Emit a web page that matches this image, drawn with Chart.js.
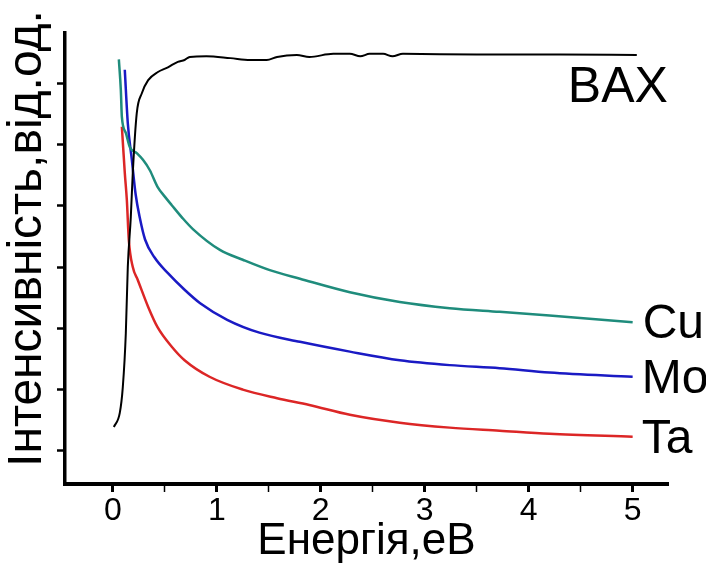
<!DOCTYPE html>
<html>
<head>
<meta charset="utf-8">
<script src="https://cdn.jsdelivr.net/npm/chart.js@4.4.0/dist/chart.umd.min.js"></script>
<style>
  html, body { margin: 0; padding: 0; background: #fff; }
  canvas { display: block; }
</style>
</head>
<body>
<canvas id="chart" width="706" height="568"></canvas>
<script>
// values (energy in eV, intensity in arb. units)
const baxX = [0.01, 0.067, 0.096, 0.125, 0.144, 0.173, 0.192, 0.23, 0.28, 0.34, 0.43, 0.53, 0.625, 0.69, 0.74, 0.90, 1.13, 1.32, 1.48, 1.58, 1.77, 1.89, 2.12, 2.28, 2.38, 2.47, 2.60, 2.69, 2.79, 3.50, 4.30, 5.04];
const baxY = [0.39, 0.62, 1.04, 1.92, 3.00, 3.82, 4.54, 5.51, 5.84, 6.05, 6.18, 6.26, 6.35, 6.38, 6.43, 6.44, 6.41, 6.38, 6.38, 6.43, 6.46, 6.43, 6.48, 6.48, 6.44, 6.48, 6.48, 6.44, 6.48, 6.47, 6.47, 6.46];

const cuX = [0.058, 0.077, 0.087, 0.125, 0.163, 0.23, 0.29, 0.356, 0.43, 0.50, 0.567, 0.67, 0.77, 1.03, 1.25, 1.51, 1.80, 2.28, 2.76, 3.24, 3.72, 4.20, 5.00];
const cuY = [6.39, 5.89, 5.45, 5.19, 4.96, 4.86, 4.75, 4.58, 4.31, 4.15, 4.01, 3.80, 3.62, 3.28, 3.12, 2.95, 2.81, 2.59, 2.43, 2.33, 2.27, 2.21, 2.10];

const moX = [0.115, 0.144, 0.183, 0.22, 0.26, 0.31, 0.40, 0.53, 0.69, 0.84, 1.10, 1.41, 1.80, 2.28, 2.76, 3.24, 3.72, 4.20, 5.00];
const moY = [6.22, 5.35, 4.75, 4.18, 3.80, 3.45, 3.16, 2.90, 2.63, 2.41, 2.14, 1.93, 1.78, 1.62, 1.48, 1.40, 1.35, 1.28, 1.21];

const taX = [0.087, 0.115, 0.135, 0.154, 0.192, 0.24, 0.34, 0.43, 0.567, 0.69, 0.93, 1.25, 1.58, 1.89, 2.28, 2.76, 3.24, 3.72, 4.20, 5.00];
const taY = [5.29, 4.54, 4.09, 3.44, 3.00, 2.79, 2.35, 2.02, 1.70, 1.48, 1.21, 1.00, 0.86, 0.75, 0.59, 0.46, 0.38, 0.33, 0.28, 0.23];

const seriesNames = ['BAX', 'Cu', 'Mo', 'Ta'];
const xTickValues = [0, 0.5, 1, 1.5, 2, 2.5, 3, 3.5, 4, 4.5, 5];
const yTickValues = [0, 1, 2, 3, 4, 5, 6];
const yTitle = 'Інтенсивність,від.од.';

const fontFamily = '"Liberation Sans", Arial, sans-serif';

function pairs(xs, ys) {
  return xs.map((x, i) => ({ x: x, y: ys[i] }));
}

// labels written at the right end of each curve
const labelStyle = [
  { dx: -69, dy: 47, size: 50 },
  { dx: 10, dy: 16, size: 48 },
  { dx: 9, dy: 16, size: 48 },
  { dx: 9, dy: 16, size: 48 }
];

const endLabels = {
  id: 'endLabels',
  afterDatasetsDraw(chart) {
    const ctx = chart.ctx;
    ctx.save();
    ctx.fillStyle = '#000';
    ctx.textAlign = 'left';
    ctx.textBaseline = 'alphabetic';
    chart.data.datasets.forEach((ds, i) => {
      const meta = chart.getDatasetMeta(i);
      const last = meta.data[meta.data.length - 1];
      const st = labelStyle[i];
      ctx.font = st.size + 'px ' + fontFamily;
      ctx.fillText(ds.label, last.x + st.dx, last.y + st.dy);
    });

    // y title sits a bit above the middle of the axis in the original
    const area = chart.chartArea;
    ctx.translate(28, (area.top + area.bottom) / 2 - 20);
    ctx.rotate(-Math.PI / 2);
    ctx.textAlign = 'center';
    ctx.textBaseline = 'middle';
    ctx.font = '48px ' + fontFamily;
    ctx.fillText(yTitle, 0, 0);
    ctx.restore();
  }
};

const ctx = document.getElementById('chart').getContext('2d');
new Chart(ctx, {
  type: 'scatter',
  data: {
    datasets: [
      { label: seriesNames[0], data: pairs(baxX, baxY), borderColor: '#000000', borderWidth: 2 },
      { label: seriesNames[1], data: pairs(cuX, cuY), borderColor: '#1f8c7c', borderWidth: 2.5 },
      { label: seriesNames[2], data: pairs(moX, moY), borderColor: '#1a1ac4', borderWidth: 2.5 },
      { label: seriesNames[3], data: pairs(taX, taY), borderColor: '#dc2626', borderWidth: 2.5 }
    ]
  },
  options: {
    responsive: false,
    animation: false,
    devicePixelRatio: 1,
    showLine: true,
    elements: {
      point: { radius: 0, hoverRadius: 0 },
      line: { cubicInterpolationMode: 'monotone' }
    },
    layout: { padding: { top: 33, right: 38, left: 0, bottom: 0 } },
    plugins: {
      legend: { display: false },
      tooltip: { enabled: false }
    },
    scales: {
      x: {
        type: 'linear',
        min: -0.46,
        max: 5.34,
        afterBuildTicks: s => { s.ticks = xTickValues.map(v => ({ value: v })); },
        afterFit: s => { s.height = 84; },
        ticks: {
          autoSkip: false,
          maxRotation: 0,
          padding: 0,
          color: '#000',
          font: { size: 32, family: fontFamily },
          callback: v => Number.isInteger(v) ? String(v) : ''
        },
        grid: {
          drawOnChartArea: false,
          drawTicks: true,
          tickLength: 8,
          tickColor: '#000',
          tickWidth: c => (c.tick && Number.isInteger(c.tick.value)) ? 3 : 1.5
        },
        border: { display: true, color: '#000', width: 4 },
        title: {
          display: true,
          text: 'Енергія,еВ',
          color: '#000',
          padding: 0,
          font: { size: 44, family: fontFamily }
        }
      },
      y: {
        type: 'linear',
        min: -0.54,
        max: 6.82,
        afterBuildTicks: s => { s.ticks = yTickValues.map(v => ({ value: v })); },
        afterFit: s => { s.width = 65; },
        ticks: { display: false },
        grid: {
          drawOnChartArea: false,
          drawTicks: true,
          tickLength: 8,
          tickColor: '#000',
          tickWidth: 2.5
        },
        border: { display: true, color: '#000', width: 3.5 },
        title: { display: false }
      }
    }
  },
  plugins: [endLabels]
});
</script>
</body>
</html>
